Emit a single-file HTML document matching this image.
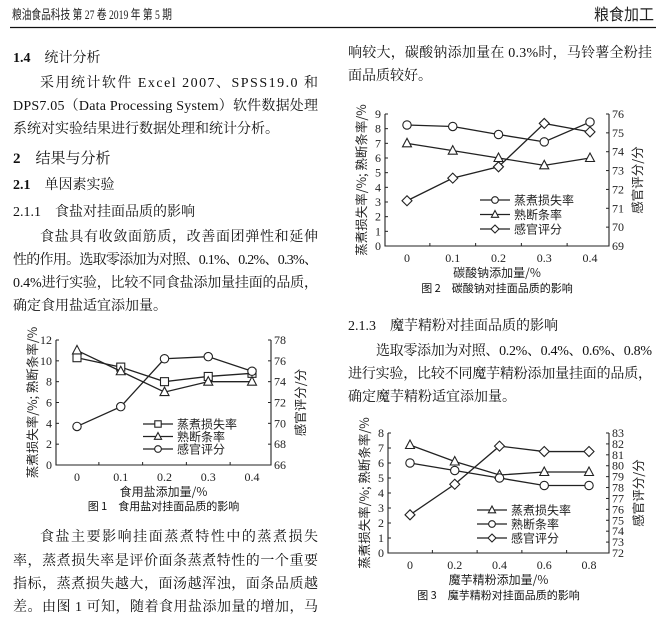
<!DOCTYPE html>
<html><head><meta charset="utf-8">
<style>
html,body{margin:0;padding:0;background:#fff;}
svg{display:block;}
.t{font-family:"Liberation Serif","Noto Serif CJK SC","Noto Sans CJK SC",serif;font-size:14px;fill:#111;}
.s{font-family:"Liberation Serif","Noto Sans CJK SC",sans-serif;fill:#222;}
</style></head>
<body>
<svg id="pg" width="666" height="621" viewBox="0 0 666 621" xmlns="http://www.w3.org/2000/svg">
<text x="12" y="19" class="s" style="font-size:13px" textLength="160" lengthAdjust="spacingAndGlyphs">粮油食品科技 第 27 卷 2019 年 第 5 期</text>
<text x="594" y="20" class="s" style="font-size:16px;font-family:'Noto Sans CJK SC',sans-serif" textLength="60" lengthAdjust="spacingAndGlyphs">粮食加工</text>
<line x1="10" y1="27.5" x2="656" y2="27.5" stroke="#111" stroke-width="1.2"/>

<text x="13" y="62" class="t"><tspan font-weight="bold">1.4</tspan>　统计分析</text>
<text x="40" y="87" class="t" textLength="278" lengthAdjust="spacing">采用统计软件 Excel 2007、SPSS19.0 和</text>
<text x="13" y="110" class="t" textLength="305" lengthAdjust="spacing">DPS7.05（Data Processing System）软件数据处理</text>
<text x="13" y="133" class="t">系统对实验结果进行数据处理和统计分析。</text>
<text x="13" y="163" class="t" style="font-size:15px"><tspan font-weight="bold">2</tspan>　结果与分析</text>
<text x="13" y="189" class="t"><tspan font-weight="bold">2.1</tspan>　单因素实验</text>
<text x="13" y="216" class="t">2.1.1　食盐对挂面品质的影响</text>
<text x="40" y="241" class="t" textLength="278" lengthAdjust="spacing">食盐具有收敛面筋质，改善面团弹性和延伸</text>
<text x="13" y="264" class="t" textLength="305" lengthAdjust="spacing">性的作用。选取零添加为对照、0.1%、0.2%、0.3%、</text>
<text x="13" y="287" class="t" textLength="305" lengthAdjust="spacing">0.4%进行实验，比较不同食盐添加量挂面的品质，</text>
<text x="13" y="310" class="t">确定食用盐适宜添加量。</text>

<text x="40" y="541" class="t" textLength="278" lengthAdjust="spacing">食盐主要影响挂面蒸煮特性中的蒸煮损失</text>
<text x="13" y="565" class="t" textLength="305" lengthAdjust="spacing">率，蒸煮损失率是评价面条蒸煮特性的一个重要</text>
<text x="13" y="588" class="t" textLength="305" lengthAdjust="spacing">指标，蒸煮损失越大，面汤越浑浊，面条品质越</text>
<text x="13" y="611" class="t" textLength="305" lengthAdjust="spacing">差。由图 1 可知，随着食用盐添加量的增加，马</text>

<text x="348" y="57" class="t" textLength="304" lengthAdjust="spacing">响较大，碳酸钠添加量在 0.3%时，马铃薯全粉挂</text>
<text x="348" y="80" class="t">面品质较好。</text>

<text x="348" y="330" class="t">2.1.3　魔芋精粉对挂面品质的影响</text>
<text x="376" y="355" class="t" textLength="276" lengthAdjust="spacing">选取零添加为对照、0.2%、0.4%、0.6%、0.8%</text>
<text x="348" y="378" class="t" textLength="304" lengthAdjust="spacing">进行实验，比较不同魔芋精粉添加量挂面的品质，</text>
<text x="348" y="401" class="t">确定魔芋精粉适宜添加量。</text>
<g id="charts"></g>
</svg>
<script>
var NS="http://www.w3.org/2000/svg",G=document.getElementById("charts");
function el(t,a,txt){var e=document.createElementNS(NS,t);for(var k in a)e.setAttribute(k,a[k]);if(txt!==undefined)e.textContent=txt;G.appendChild(e);return e;}
function marker(type,x,y,k){
 k=k||1;
 var st={fill:"#fff",stroke:"#222","stroke-width":1.1};
 if(type=="sq")el("rect",Object.assign({x:x-4*k,y:y-4*k,width:8*k,height:8*k},st));
 else if(type=="tri")el("polygon",Object.assign({points:(x)+","+(y-5*k)+" "+(x-4.5*k)+","+(y+3.5*k)+" "+(x+4.5*k)+","+(y+3.5*k)},st));
 else if(type=="ci")el("circle",Object.assign({cx:x,cy:y,r:4.2*k},st));
 else if(type=="dm")el("polygon",Object.assign({points:x+","+(y-5*k)+" "+(x+5*k)+","+y+" "+x+","+(y+5*k)+" "+(x-5*k)+","+y},st));
}
function chart(c){
 var L=c.L,R=c.R,T=c.T,B=c.B;
 var fs="font-family:'Liberation Serif','Noto Serif CJK SC',serif;font-size:12px";
 el("path",{d:"M"+L+","+T+"V"+B+"H"+R+"V"+T,fill:"none",stroke:"#222","stroke-width":1.1});
 var n=c.xl.length,dx=(c.x1-c.x0)/(n-1);
 function X(i){return c.x0+i*dx;}
 function YL(v){return B-(v-c.lmin)/(c.lmax-c.lmin)*(B-T);}
 function YR(v){return B-(v-c.rmin)/(c.rmax-c.rmin)*(B-T);}
 for(var v=c.lmin;v<=c.lmax+1e-9;v+=c.lstep){var y=YL(v);el("line",{x1:L,y1:y,x2:L+3,y2:y,stroke:"#222"});el("text",{x:L-4,y:y+4,"text-anchor":"end",style:fs,fill:"#222"},String(Math.round(v)));}
 for(var v=c.rmin;v<=c.rmax+1e-9;v+=c.rstep){var y=YR(v);el("line",{x1:R,y1:y,x2:R-3,y2:y,stroke:"#222"});el("text",{x:R+3,y:y+4,style:fs,fill:"#222"},String(Math.round(v)));}
 for(var i=0;i<n;i++){el("text",{x:X(i),y:B+16,"text-anchor":"middle",style:fs,fill:"#222"},c.xl[i]);}
 for(var i=-0.5;i<n;i+=1){var x=X(i);if(x>L&&x<R)el("line",{x1:x,y1:B,x2:x,y2:B-3,stroke:"#222"});}
 c.series.forEach(function(s){
  var Y=s.r?YR:YL,d="";
  s.v.forEach(function(v,i){d+=(i?"L":"M")+X(i)+","+Y(v);});
  el("path",{d:d,fill:"none",stroke:"#222","stroke-width":1.3});
  s.v.forEach(function(v,i){marker(s.m,X(i),Y(v));});
 });
 c.leg.forEach(function(s,i){
  var y=c.ly+i*c.lg;
  el("line",{x1:c.lx,y1:y,x2:c.lx+30,y2:y,stroke:"#222","stroke-width":1.3});
  marker(s[0],c.lx+15,y,0.8);
  el("text",{x:c.lx+34,y:y+4.5,style:"font-family:'Noto Sans CJK SC',sans-serif;font-size:12px",fill:"#222"},s[1]);
 });
 var cy=(T+B)/2;
 el("text",{x:0,y:0,transform:"translate("+(c.ax)+","+cy+") rotate(-90)","text-anchor":"middle",style:"font-family:'Noto Sans CJK SC',sans-serif;font-size:12.5px",fill:"#222"},"蒸煮损失率/%; 熟断条率/%");
 el("text",{x:0,y:0,transform:"translate("+(c.bx+9)+","+cy+") rotate(-90)","text-anchor":"middle",style:"font-family:'Noto Sans CJK SC',sans-serif;font-size:12.5px",fill:"#222"},"感官评分/分");
 el("text",{x:(L+R)/2,y:B+31,"text-anchor":"middle",style:"font-family:'Noto Sans CJK SC',sans-serif;font-size:12px",fill:"#222"},c.xt);
 el("text",{x:(L+R)/2,y:c.capy,"text-anchor":"middle",style:"font-family:'Noto Sans CJK SC',sans-serif;font-size:11px",fill:"#111"},c.cap);
}
chart({L:56,R:271,T:340,B:465,x0:77,x1:252,xl:["0","0.1","0.2","0.3","0.4"],lmin:0,lmax:12,lstep:2,rmin:66,rmax:78,rstep:2,
 series:[{m:"sq",v:[10.3,9.4,8.0,8.5,8.8]},{m:"tri",v:[11,9,7,8,8]},{m:"ci",r:1,v:[69.7,71.6,76.2,76.4,75.0]}],
 leg:[["sq","蒸煮损失率"],["tri","熟断条率"],["ci","感官评分"]],lx:143,ly:424,lg:12.5,ax:37,bx:296,xt:"食用盐添加量/%",cap:"图 1　食用盐对挂面品质的影响",capy:510});
chart({L:385,R:609,T:114,B:246,x0:407,x1:590,xl:["0","0.1","0.2","0.3","0.4"],lmin:0,lmax:9,lstep:1,rmin:69,rmax:76,rstep:1,
 series:[{m:"ci",v:[8.25,8.15,7.6,7.1,8.45]},{m:"tri",v:[7,6.5,6,5.5,6]},{m:"dm",r:1,v:[71.4,72.6,73.2,75.5,75.05]}],
 leg:[["ci","蒸煮损失率"],["tri","熟断条率"],["dm","感官评分"]],lx:480,ly:200,lg:14.5,ax:366,bx:633,xt:"碳酸钠添加量/%",cap:"图 2　碳酸钠对挂面品质的影响",capy:292});
chart({L:388,R:609,T:433,B:553,x0:410,x1:589,xl:["0","0.2","0.4","0.6","0.8"],lmin:0,lmax:8,lstep:1,rmin:72,rmax:83,rstep:1,
 series:[{m:"tri",v:[7.2,6.1,5.2,5.4,5.4]},{m:"ci",v:[6,5.5,5,4.5,4.5]},{m:"dm",r:1,v:[75.5,78.3,81.8,81.3,81.3]}],
 leg:[["tri","蒸煮损失率"],["ci","熟断条率"],["dm","感官评分"]],lx:477,ly:510,lg:14,ax:369,bx:634,xt:"魔芋精粉添加量/%",cap:"图 3　魔芋精粉对挂面品质的影响",capy:599});
</script>
</body></html>
